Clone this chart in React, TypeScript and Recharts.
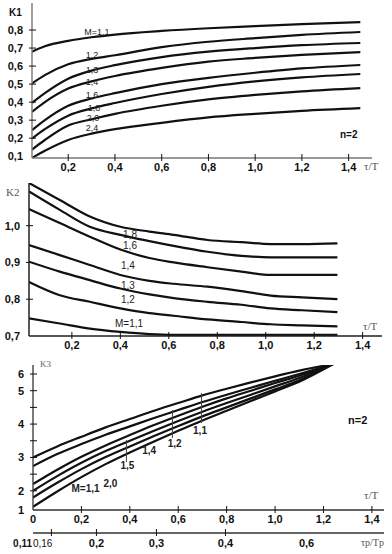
import React from "react";
import {
  ComposedChart,
  Line,
  Scatter,
  XAxis,
  YAxis,
  ReferenceLine,
} from "recharts";

const SANS = "'Liberation Sans', Arial, Helvetica, sans-serif";
const SERIF = "'Liberation Serif', 'Times New Roman', serif";
const INK = "#111";

// ---- K1 panel (n=2) ----
const k1Tau = [0.045, 0.1, 0.2, 0.3, 0.4, 0.6, 0.8, 1.0, 1.2, 1.45];
const k1M11 = [0.68, 0.71, 0.74, 0.76, 0.775, 0.795, 0.81, 0.822, 0.833, 0.844];
const k1M12 = [0.504, 0.55, 0.61, 0.64, 0.66, 0.705, 0.735, 0.755, 0.773, 0.789];
const k1M13 = [0.396, 0.45, 0.53, 0.575, 0.605, 0.65, 0.68, 0.7, 0.716, 0.728];
const k1M14 = [0.346, 0.4, 0.475, 0.515, 0.545, 0.59, 0.625, 0.645, 0.662, 0.678];
const k1M16 = [0.244, 0.3, 0.38, 0.42, 0.45, 0.5, 0.535, 0.563, 0.587, 0.606];
const k1M18 = [0.198, 0.25, 0.325, 0.365, 0.395, 0.445, 0.485, 0.515, 0.537, 0.556];
const k1M20 = [0.137, 0.19, 0.27, 0.305, 0.335, 0.38, 0.415, 0.44, 0.46, 0.478];
const k1M24 = [0.09, 0.13, 0.19, 0.225, 0.25, 0.285, 0.315, 0.335, 0.352, 0.367];
const k1XTicks = [0.2, 0.4, 0.6, 0.8, 1.0, 1.2, 1.4];
const k1YTicks = [0.1, 0.2, 0.3, 0.4, 0.5, 0.6, 0.7, 0.8];
const k1Labels = [
  { x: 0.323, y: 0.792, text: "M=1,1" },
  { x: 0.302, y: 0.661, text: "1,2" },
  { x: 0.302, y: 0.578, text: "1,3" },
  { x: 0.302, y: 0.514, text: "1,4" },
  { x: 0.302, y: 0.439, text: "1,6" },
  { x: 0.31, y: 0.369, text: "1,8" },
  { x: 0.306, y: 0.313, text: "2,0" },
  { x: 0.302, y: 0.259, text: "2,4" },
];

// ---- K2 panel ----
const k2Tau = [0.023, 0.15, 0.274, 0.4, 0.52, 0.62, 0.76, 0.9, 1.02, 1.15, 1.296];
const k2C1 = [1.116, 1.07, 1.025, 0.997, 0.984, 0.975, 0.961, 0.955, 0.95, 0.95, 0.952];
const k2C2 = [1.093, 1.043, 0.997, 0.975, 0.958, 0.945, 0.929, 0.918, 0.914, 0.914, 0.914];
const k2C3 = [1.045, 1.007, 0.97, 0.935, 0.912, 0.9, 0.887, 0.875, 0.866, 0.866, 0.866];
const k2C4 = [0.947, 0.92, 0.893, 0.866, 0.85, 0.842, 0.834, 0.822, 0.81, 0.805, 0.8];
const k2C5 = [0.902, 0.875, 0.852, 0.829, 0.813, 0.803, 0.793, 0.785, 0.775, 0.77, 0.765];
const k2C6 = [0.847, 0.811, 0.793, 0.775, 0.762, 0.755, 0.745, 0.738, 0.732, 0.729, 0.726];
const k2C7 = [0.748, 0.734, 0.72, 0.711, 0.705, 0.703, 0.703, 0.703, 0.703, 0.703, 0.703];
const k2XTicks = [0.2, 0.4, 0.6, 0.8, 1.0, 1.2, 1.4];
const k2YTicks = [0.7, 0.8, 0.9, 1.0];
const k2Labels = [
  { x: 0.44, y: 0.975, text: "1,8" },
  { x: 0.44, y: 0.945, text: "1,6" },
  { x: 0.431, y: 0.893, text: "1,4" },
  { x: 0.431, y: 0.838, text: "1,3" },
  { x: 0.431, y: 0.8, text: "1,2" },
  { x: 0.436, y: 0.735, text: "M=1,1" },
];

// ---- K3 panel (n=2) ----
const k3Tau = [0, 0.1, 0.2, 0.3, 0.4, 0.5, 0.6, 0.7, 0.8, 0.9, 1.0, 1.1, 1.24];
const k3A = [3.0, 3.33, 3.62, 3.9, 4.15, 4.4, 4.63, 4.86, 5.06, 5.25, 5.43, 5.6, 5.8];
const k3B = [2.74, 3.1, 3.4, 3.68, 3.93, 4.18, 4.42, 4.66, 4.88, 5.09, 5.3, 5.5, 5.8];
const k3C = [2.2, 2.63, 3.02, 3.36, 3.67, 3.97, 4.25, 4.52, 4.77, 5.0, 5.23, 5.45, 5.8];
const k3D = [2.0, 2.44, 2.84, 3.19, 3.5, 3.8, 4.09, 4.37, 4.63, 4.88, 5.13, 5.38, 5.8];
const k3E = [1.8, 2.24, 2.65, 3.01, 3.33, 3.64, 3.94, 4.23, 4.5, 4.77, 5.04, 5.31, 5.8];
const k3F = [1.52, 1.98, 2.41, 2.8, 3.15, 3.48, 3.8, 4.11, 4.4, 4.69, 4.98, 5.27, 5.8];
const k3XTicks = [0, 0.2, 0.4, 0.6, 0.8, 1.0, 1.2, 1.4];
const k3YTicks = [1.425, 2, 2.5, 3, 3.5, 4, 4.5, 5, 5.5];
const k3YTickLabels = ["1", "2", "", "3", "", "4", "", "5", "6"];
// second scale, tau_p/T_p, placed against tau/T
const tpTickPos = [0, 0.076, 0.262, 0.51, 0.795, 1.13];
const tpTickLabels = ["0,11", "0,16", "0,2", "0,3", "0,4", "0,6"];
const k3Labels = [
  { x: 0.217, y: 2.08, text: "M=1,1" },
  { x: 0.32, y: 2.23, text: "2,0" },
  { x: 0.39, y: 2.77, text: "1,5" },
  { x: 0.48, y: 3.22, text: "1,4" },
  { x: 0.585, y: 3.43, text: "1,2" },
  { x: 0.69, y: 3.82, text: "1,1" },
];
const k3Marks = [
  { x: 0.386, lo: 2.86, hi: 3.52 },
  { x: 0.576, lo: 3.58, hi: 4.42 },
  { x: 0.696, lo: 4.03, hi: 4.93 },
];

const toRows = (xs: number[], series: number[][]) =>
  xs.map((x, i) => {
    const row: Record<string, number> = { x };
    series.forEach((s, j) => (row["c" + j] = s[i]));
    return row;
  });

const k1Series = [k1M11, k1M12, k1M13, k1M14, k1M16, k1M18, k1M20, k1M24];
const k2Series = [k2C1, k2C2, k2C3, k2C4, k2C5, k2C6, k2C7];
const k3Series = [k3A, k3B, k3C, k3D, k3E, k3F];

const fmt = (v: number) => (v === 0 ? "0" : v.toFixed(1).replace(".", ","));

function XTick(props: any) {
  const { x, y, payload, skipMarkAt0 } = props;
  const v = payload.value as number;
  return (
    <g>
      {!(skipMarkAt0 && v === 0) && (
        <line x1={x} x2={x} y1={y - 4} y2={y + 3} stroke={INK} strokeWidth={1} />
      )}
      <text
        x={x}
        y={y + 13}
        textAnchor="middle"
        fontFamily={SANS}
        fontSize={11}
        fontWeight={700}
        fill={INK}
      >
        {fmt(v)}
      </text>
    </g>
  );
}

function YTick(props: any) {
  const { x, y, payload, label, mark = true } = props;
  return (
    <g>
      {mark && <line x1={x - 3} x2={x + 4} y1={y} y2={y} stroke={INK} strokeWidth={1} />}
      <text
        x={x - 9}
        y={y + 4}
        textAnchor="end"
        fontFamily={SANS}
        fontSize={11}
        fontWeight={700}
        fill={INK}
      >
        {label ?? payload.value.toFixed(1).replace(".", ",")}
      </text>
    </g>
  );
}

const curveLabel = (size: number, weight: number) => (p: any) => (
  <text
    x={p.cx}
    y={p.cy}
    dy="0.35em"
    textAnchor="middle"
    fontFamily={SANS}
    fontSize={size}
    fontWeight={weight}
    fill="#222"
  >
    {p.payload.text}
  </text>
);

function Note({
  left,
  top,
  children,
  serif,
  bold,
  size = 11,
  color = INK,
}: any) {
  return (
    <div
      style={{
        position: "absolute",
        left,
        top,
        fontFamily: serif ? SERIF : SANS,
        fontWeight: bold ? 700 : 400,
        fontSize: size,
        lineHeight: 1,
        color,
        whiteSpace: "nowrap",
      }}
    >
      {children}
    </div>
  );
}

const lines = (n: number) =>
  Array.from({ length: n }, (_, j) => (
    <Line
      key={j}
      dataKey={"c" + j}
      type="monotone"
      stroke={INK}
      strokeWidth={2.2}
      dot={false}
      isAnimationActive={false}
    />
  ));

export default function App() {
  return (
    <div
      style={{
        position: "absolute",
        left: 0,
        top: 0,
        width: 392,
        height: 554,
        background: "#fff",
        overflow: "hidden",
      }}
    >
      {/* K1 */}
      <div style={{ position: "absolute", left: 0, top: 0 }}>
        <ComposedChart
          width={392}
          height={180}
          data={toRows(k1Tau, k1Series)}
          margin={{ top: 3, right: 20, bottom: 0, left: 0 }}
        >
          <XAxis
            dataKey="x"
            type="number"
            domain={[0.045, 1.5]}
            allowDataOverflow
            ticks={k1XTicks}
            interval={0}
            height={22}
            tickSize={0}
            tickMargin={0}
            tickLine={false}
            axisLine={{ stroke: "#777", strokeWidth: 1.6 }}
            tick={(p: any) => <XTick {...p} />}
          />
          <YAxis
            type="number"
            domain={[0.09, 0.95]}
            allowDataOverflow
            ticks={k1YTicks}
            interval={0}
            width={32}
            tickSize={0}
            tickMargin={0}
            tickLine={false}
            axisLine={{ stroke: "#777", strokeWidth: 1.4 }}
            tick={(p: any) => <YTick {...p} mark={p.payload.value !== 0.1} />}
          />
          {lines(k1Series.length)}
          <Scatter
            data={k1Labels}
            dataKey="y"
            shape={curveLabel(9, 400)}
            isAnimationActive={false}
          />
        </ComposedChart>
      </div>
      <Note left={9} top={8} bold size={10}>K1</Note>
      <Note left={340} top={130} bold size={10}>n=2</Note>
      <Note left={364} top={161} serif color="#555">τ/T</Note>

      {/* K2 */}
      <div style={{ position: "absolute", left: 0, top: 180 }}>
        <ComposedChart
          width={392}
          height={180}
          data={toRows(k2Tau, k2Series)}
          margin={{ top: 3, right: 10, bottom: 0, left: 0 }}
        >
          <XAxis
            dataKey="x"
            type="number"
            domain={[0.023, 1.48]}
            allowDataOverflow
            ticks={k2XTicks}
            interval={0}
            height={24}
            tickSize={0}
            tickMargin={0}
            tickLine={false}
            axisLine={{ stroke: "#222", strokeWidth: 1.5 }}
            tick={(p: any) => <XTick {...p} />}
          />
          <YAxis
            type="number"
            domain={[0.7, 1.116]}
            allowDataOverflow
            ticks={k2YTicks}
            interval={0}
            width={29}
            tickSize={0}
            tickMargin={0}
            tickLine={false}
            axisLine={{ stroke: "#222", strokeWidth: 1.5 }}
            tick={(p: any) => <YTick {...p} mark={p.payload.value !== 0.7} />}
          />
          {lines(k2Series.length)}
          <Scatter
            data={k2Labels}
            dataKey="y"
            shape={curveLabel(10, 400)}
            isAnimationActive={false}
          />
        </ComposedChart>
      </div>
      <Note left={6} top={187} serif color="#555">K2</Note>
      <Note left={363} top={321} serif color="#555">τ/T</Note>

      {/* K3 */}
      <div style={{ position: "absolute", left: 0, top: 360 }}>
        <ComposedChart
          width={392}
          height={194}
          data={toRows(k3Tau, k3Series)}
          margin={{ top: 5, right: 8, bottom: 0, left: 0 }}
        >
          <XAxis
            dataKey="x"
            type="number"
            domain={[0, 1.45]}
            allowDataOverflow
            ticks={k3XTicks}
            interval={0}
            height={23}
            tickSize={0}
            tickMargin={0}
            tickLine={false}
            axisLine={{ stroke: "#333", strokeWidth: 1.3 }}
            tick={(p: any) => <XTick {...p} skipMarkAt0 />}
          />
          <XAxis
            xAxisId="p"
            dataKey="x"
            type="number"
            domain={[0, 1.45]}
            allowDataOverflow
            ticks={tpTickPos}
            interval={0}
            height={21}
            tickSize={0}
            tickMargin={0}
            tickLine={false}
            axisLine={{ stroke: "#333", strokeWidth: 1.3 }}
            tick={(p: any) => {
              const i = tpTickPos.indexOf(p.payload.value);
              const end = i < 2;
              return (
                <g>
                  {i > 0 && i < 5 && (
                    <line x1={p.x} x2={p.x} y1={p.y - 4} y2={p.y + 3} stroke={INK} />
                  )}
                  <text
                    x={i === 0 ? p.x - 1 : end ? p.x + 1 : p.x}
                    y={p.y + 14}
                    textAnchor={end ? "end" : "middle"}
                    fontFamily={SANS}
                    fontSize={end ? 10 : 11}
                    fontWeight={i === 1 ? 400 : 700}
                    fill={INK}
                  >
                    {tpTickLabels[i]}
                  </text>
                </g>
              );
            }}
          />
          <YAxis
            type="number"
            domain={[1.425, 5.77]}
            allowDataOverflow
            ticks={k3YTicks}
            interval={0}
            width={33}
            tickSize={0}
            tickMargin={0}
            tickLine={false}
            axisLine={{ stroke: "#333", strokeWidth: 1.3 }}
            tick={(p: any) => {
              const i = k3YTicks.indexOf(p.payload.value);
              return <YTick {...p} mark={i > 0} label={k3YTickLabels[i]} />;
            }}
          />
          {lines(k3Series.length)}
          {k3Marks.map((m, i) => (
            <ReferenceLine
              key={i}
              segment={[
                { x: m.x, y: m.lo },
                { x: m.x, y: m.hi },
              ]}
              stroke="#444"
              strokeWidth={1}
            />
          ))}
          <Scatter
            data={k3Labels}
            dataKey="y"
            shape={curveLabel(10, 700)}
            isAnimationActive={false}
          />
        </ComposedChart>
      </div>
      <Note left={40} top={360} serif size={9} color="#666">K3</Note>
      <Note left={348} top={415} bold size={11}>n=2</Note>
      <Note left={364} top={490} serif color="#555">τ/T</Note>
      <Note left={361} top={538} serif size={10} color="#555">τp/Tp</Note>
    </div>
  );
}
